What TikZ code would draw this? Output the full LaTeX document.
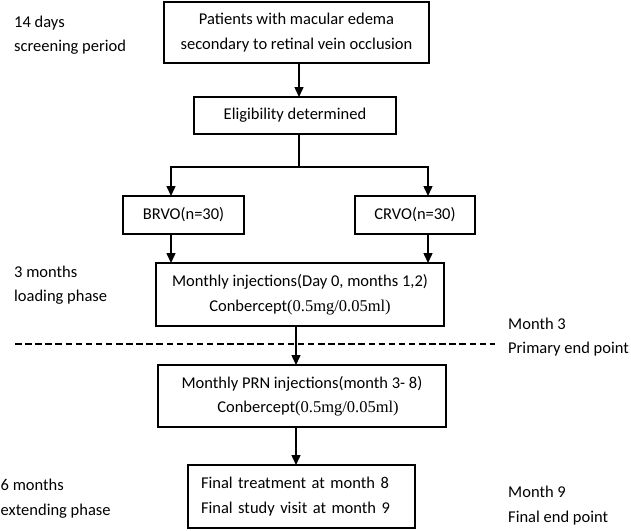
\documentclass[tikz,border=0pt]{standalone}
\usepackage{fontspec}
\setmainfont{Carlito}
\newfontfamily\tnr{Liberation Serif}
\usetikzlibrary{arrows.meta}
\tikzset{
  txt/.style={font=\fontsize{16.5}{24.5}\selectfont},
  box/.style n args={2}{draw, line width=1.2pt, minimum width=#1, minimum height=#2,
    inner sep=0pt, outer sep=0pt, align=center, txt},
  lbl/.style={anchor=west, align=left, inner sep=0pt, txt},
  conn/.style={line width=1.5pt},
  arr/.style={line width=1.5pt, -{Triangle[length=10pt,width=9pt]}},
  dashline/.style={line width=1.5pt, dash pattern=on 6.5pt off 3.6pt},
}
\begin{document}
\begin{tikzpicture}[x=1pt,y=-1pt]
\useasboundingbox (0,0) rectangle (631,530);
% boxes
\node[box={265pt}{61pt}] (b1) at (296.5,32.5) {Patients with macular edema\\secondary to retinal vein occlusion};
\node[box={202pt}{37pt}] (b2) at (295,115.5) {Eligibility determined};
\node[box={121pt}{38pt}] (brvo) at (183.5,215) {BRVO(n=30)};
\node[box={120pt}{38pt}] (crvo) at (415,215) {CRVO(n=30)};
\node[box={288pt}{63pt}] (b4) at (300,294.5) {Monthly injections(Day 0, months 1,2)\\Conbercept{\tnr(0.5mg/0.05ml)}};
\node[box={288pt}{62pt}] (b5) at (302,396) {Monthly PRN injections(month 3- 8)\\\hspace*{12pt}Conbercept{\tnr(0.5mg/0.05ml)}};
\node[box={227pt}{63pt}, align=left, text width=201pt, inner xsep=13pt] (b6) at (301.5,496.5) {Final treatment at month 8\\Final study visit at month 9};
% side labels
\node[lbl] (l1) at (14,35) {14 days\\screening period};
\node[lbl] (l2) at (14,285) {3 months\\loading phase};
\node[lbl] (l3) at (0.5,498.5) {6 months\\extending phase};
\node[lbl] (r1) at (508,337) {Month 3\\Primary end point};
\node[lbl] (r2) at (508,505.5) {Month 9\\Final end point};
% helper coordinates
\coordinate (cx) at (299,0);
\coordinate (j) at (299,167);
\coordinate (jl) at (171,167);
\coordinate (jr) at (428,167);
\coordinate (cm) at (296,0);
\coordinate (dl) at (15,344);
\coordinate (dr) at (495,344);
% connectors
\draw[arr] (b1.south -| cx) -- (b2.north -| cx);
\draw[conn] (b2.south -| j) -- (j);
\draw[arr] (j) -- (jl) -- (brvo.north -| jl);
\draw[arr] (j) -- (jr) -- (crvo.north -| jr);
\draw[arr] (brvo.south -| jl) -- (b4.north -| jl);
\draw[arr] (crvo.south -| jr) -- (b4.north -| jr);
\draw[dashline] (dl) -- (dr);
\draw[arr] (b4.south -| cm) -- (b5.north -| cm);
\draw[arr] (b5.south -| cm) -- (b6.north -| cm);
\end{tikzpicture}
\end{document}
